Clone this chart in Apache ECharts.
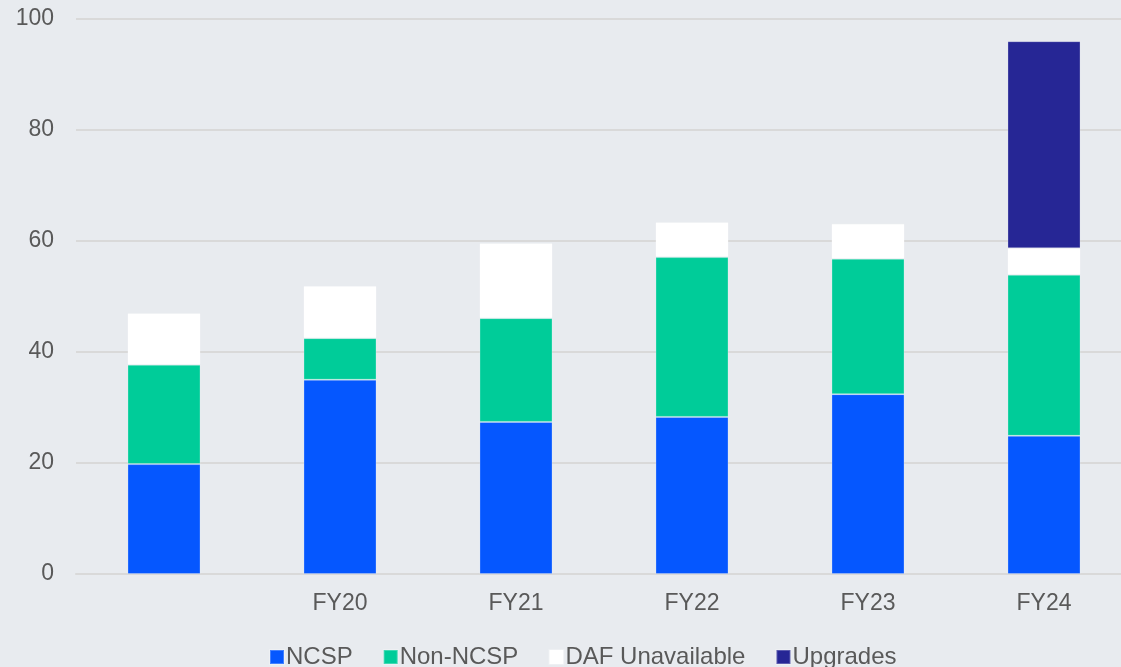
<!DOCTYPE html>
<html>
<head>
<meta charset="utf-8">
<script src="https://cdn.jsdelivr.net/npm/echarts@6/dist/echarts.min.js"></script>
<style>html,body{margin:0;padding:0;background:#E8EBEF;overflow:hidden;}#c{width:1132px;height:667px;}</style>
</head>
<body>
<div id="c"></div>
<script>
const categories = ['', 'FY20', 'FY21', 'FY22', 'FY23', 'FY24'];
const ncsp = [19.8, 35.0, 27.4, 28.3, 32.4, 24.9];
const nonNcsp = [17.9, 7.5, 18.7, 28.8, 24.4, 29.0];
const dafUnavailable = [9.3, 9.4, 13.5, 6.3, 6.3, 4.8];
const upgrades = [null, null, null, null, null, 37.3];
const yTicks = [0, 20, 40, 60, 80, 100];

const chart = echarts.init(document.getElementById('c'), null, {renderer: 'canvas'});
const font = 'Arial, "Liberation Sans", sans-serif';
const mk = (name, data, color) => ({
  name, type: 'bar', stack: 'total', data, barWidth: '41.5%',
  itemStyle: {color, borderColor: 'rgba(255,255,255,0.25)', borderWidth: 1},
  emphasis: {disabled: true}
});
chart.setOption({
  backgroundColor: '#E8EBEF',
  animation: false,
  grid: {left: 76, right: 0, top: 19, bottom: 93, containLabel: false},
  legend: {
    top: 640, left: 264, icon: 'rect', itemWidth: 14, itemHeight: 14, itemGap: 30,
    textStyle: {fontFamily: font, fontSize: 24, color: '#595959', padding: [0, 0, 0, -3]},
    data: ['NCSP', 'Non-NCSP', 'DAF Unavailable', 'Upgrades']
  },
  xAxis: {
    type: 'category', data: categories,
    axisLine: {show: true, lineStyle: {color: '#D9D9D9', width: 2}},
    axisTick: {show: false},
    axisLabel: {fontFamily: font, fontSize: 23, color: '#595959', margin: 18}
  },
  yAxis: {
    type: 'value', min: yTicks[0], max: yTicks[yTicks.length - 1], interval: 20,
    axisLine: {show: false}, axisTick: {show: false},
    axisLabel: {fontFamily: font, fontSize: 23, color: '#595959', margin: 22},
    splitLine: {lineStyle: {color: '#D9D9D9', width: 2}}
  },
  series: [
    mk('NCSP', ncsp, '#0557FF'),
    mk('Non-NCSP', nonNcsp, '#00CC99'),
    mk('DAF Unavailable', dafUnavailable, '#FFFFFF'),
    mk('Upgrades', upgrades, '#262695')
  ]
});
</script>
</body>
</html>
